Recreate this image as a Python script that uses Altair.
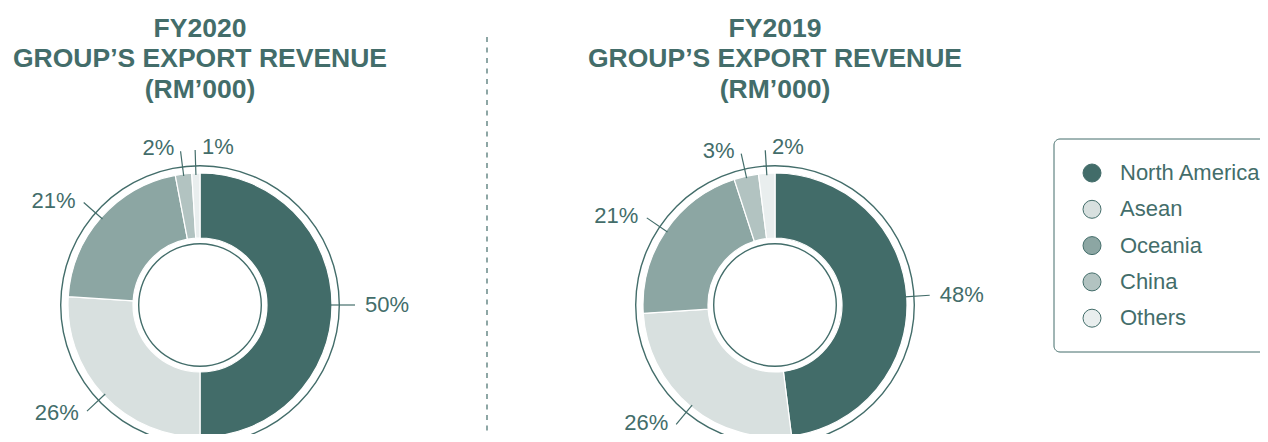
import math
import altair as alt
import pandas as pd

# ---------------- data ----------------
regions = ["North America", "Asean", "Oceania", "China", "Others"]
share_fy2020 = [50, 26, 21, 2, 1]
share_fy2019 = [48, 26, 21, 3, 2]
labels_fy2020 = ["50%", "26%", "21%", "2%", "1%"]
labels_fy2019 = ["48%", "26%", "21%", "3%", "2%"]
years = ["FY2020", "FY2019"]
title_lines = ["GROUP\u2019S EXPORT REVENUE", "(RM\u2019000)"]
colors = ["#426c69", "#d8e0df", "#8ca6a3", "#b2c3c1", "#e9eeee"]

# ---------------- layout / style ----------------
W, H = 1252, 426
TEAL = "#436d6a"
FONT = "Liberation Sans"


def P(v):
    """page pixel -> view pixel (page has an 8px margin)"""
    return v - 8


centers = {"FY2020": (P(200), P(305)), "FY2019": (P(775), P(305))}
R_OUT, R_IN = 132, 67
RING_OUT, INNER_RING = 140, 62
LEAD_R1, LEAD_R2, LABEL_R = 130, 155, 158

xsc = alt.Scale(domain=[0, W], range=[0, W], nice=False, zero=False)
ysc = alt.Scale(domain=[0, H], range=[0, H], nice=False, zero=False)

rows = []
for year, shares, labs in [("FY2020", share_fy2020, labels_fy2020),
                           ("FY2019", share_fy2019, labels_fy2019)]:
    cx, cy = centers[year]
    total = sum(shares)
    cum = 0
    for i, (reg, v, lab) in enumerate(zip(regions, shares, labs)):
        mid = (cum + v / 2) / total * 2 * math.pi
        cum += v
        s, c = math.sin(mid), math.cos(mid)
        right = s > 0 or mid > math.radians(355)
        ty = min(cy - LABEL_R * c, H - 11)
        rows.append(dict(
            year=year, region=reg, order=i, value=v, label=lab,
            lx1=cx + LEAD_R1 * s, ly1=cy - LEAD_R1 * c,
            lx2=cx + LEAD_R2 * s, ly2=cy - LEAD_R2 * c,
            tx=cx + LABEL_R * s, ty=ty,
            side="right" if right else "left",
        ))
df = pd.DataFrame(rows)

one = pd.DataFrame({"k": [0]})
color_scale = alt.Scale(domain=regions, range=colors)

layers = []

# donuts
for year in years:
    cx, cy = centers[year]
    d = df[df.year == year]
    layers.append(
        alt.Chart(d).mark_arc(radius=R_OUT, radius2=R_IN, stroke="white",
                              strokeWidth=1.2).encode(
            theta=alt.Theta("value:Q", stack=True),
            color=alt.Color("region:N", scale=color_scale, legend=None),
            order=alt.Order("order:Q"),
            x=alt.value(cx), y=alt.value(cy),
        )
    )
    # outer thin ring
    layers.append(
        alt.Chart(one).mark_arc(radius=RING_OUT, radius2=RING_OUT - 1.4,
                                theta=0, theta2=2 * math.pi, color=TEAL).encode(
            x=alt.value(cx), y=alt.value(cy))
    )
    # inner thin ring
    layers.append(
        alt.Chart(one).mark_arc(radius=INNER_RING, radius2=INNER_RING - 1.4,
                                theta=0, theta2=2 * math.pi, color=TEAL).encode(
            x=alt.value(cx), y=alt.value(cy))
    )

# leader lines
layers.append(
    alt.Chart(df).mark_rule(color=TEAL, strokeWidth=1.2).encode(
        x=alt.X("lx1:Q", scale=xsc, axis=None),
        y=alt.Y("ly1:Q", scale=ysc, axis=None),
        x2="lx2:Q", y2="ly2:Q")
)

# slice labels
for side, align, dx in [("right", "left", 7), ("left", "right", -6)]:
    layers.append(
        alt.Chart(df[df.side == side]).mark_text(
            align=align, baseline="middle", dx=dx, fontSize=22, font=FONT,
            color=TEAL).encode(
            x=alt.X("tx:Q", scale=xsc, axis=None),
            y=alt.Y("ty:Q", scale=ysc, axis=None),
            text="label:N")
    )

# titles
title_rows = []
for year in years:
    cx, _ = centers[year]
    for j, t in enumerate([year] + title_lines):
        title_rows.append(dict(text=t, x=cx, y=P(36.5) + j * 30.5))
layers.append(
    alt.Chart(pd.DataFrame(title_rows)).mark_text(
        align="center", baseline="alphabetic", fontSize=26.5, fontWeight="bold",
        font=FONT, color=TEAL).encode(
        x=alt.X("x:Q", scale=xsc, axis=None),
        y=alt.Y("y:Q", scale=ysc, axis=None),
        text="text:N")
)

# dashed divider
layers.append(
    alt.Chart(one).mark_rule(color=TEAL, strokeWidth=1.2,
                             strokeDash=[5, 5.5]).encode(
        x=alt.value(P(487)), y=alt.value(P(37)), y2=alt.value(H))
)

# legend
leg = pd.DataFrame({"region": regions,
                    "ly": [P(173) + i * 36.3 for i in range(len(regions))]})
layers.append(
    alt.Chart(one).mark_rect(cornerRadius=6, fillOpacity=0, stroke=TEAL,
                             strokeWidth=1).encode(
        x=alt.value(P(1054)), x2=alt.value(W + 30),
        y=alt.value(P(139)), y2=alt.value(P(352)))
)
layers.append(
    alt.Chart(leg).mark_point(shape="circle", filled=True, size=324,
                              stroke=TEAL, strokeWidth=1, opacity=1).encode(
        x=alt.value(P(1092)),
        y=alt.Y("ly:Q", scale=ysc, axis=None),
        fill=alt.Fill("region:N", scale=color_scale, legend=None))
)
layers.append(
    alt.Chart(leg).mark_text(align="left", baseline="middle", fontSize=22,
                             font=FONT, color=TEAL).encode(
        x=alt.value(P(1120)),
        y=alt.Y("ly:Q", scale=ysc, axis=None),
        text="region:N")
)

chart = alt.layer(*layers).properties(
    width=W, height=H, padding=0,
    autosize=alt.AutoSizeParams(type="none"),
    background="white",
).configure_view(stroke=None)

chart.save("out.html", embed_options={"renderer": "svg", "actions": False})
